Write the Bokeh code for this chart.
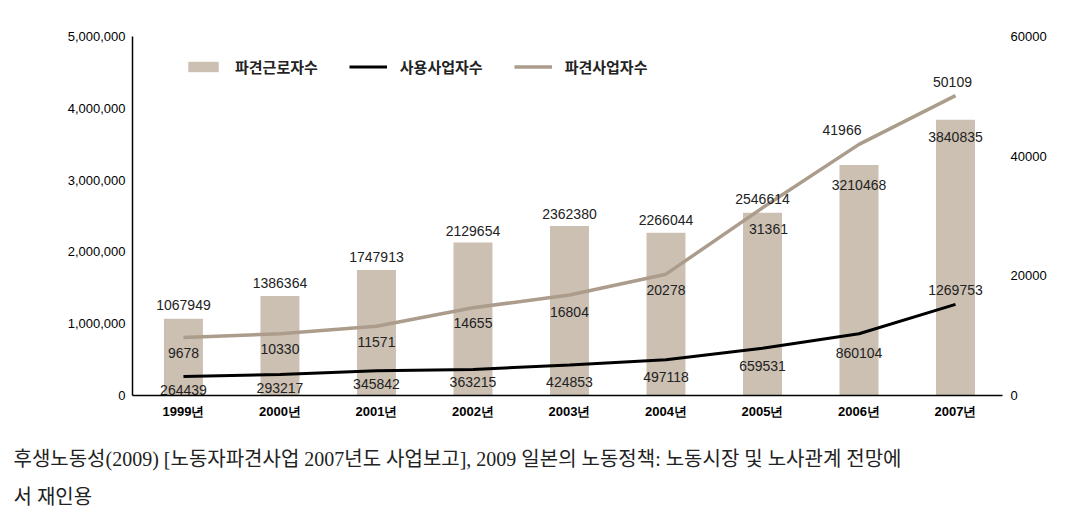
from bokeh.plotting import figure
from bokeh.models import (Range1d, LinearAxis, FixedTicker, NumeralTickFormatter,
                          Legend, LegendItem, ColumnDataSource, Title)
from bokeh.core.properties import value
from bokeh.embed import file_html
from bokeh.resources import INLINE

# ---------------- data ----------------
years = ["1999년", "2000년", "2001년", "2002년", "2003년", "2004년", "2005년", "2006년", "2007년"]
dispatched_workers = [1067949, 1386364, 1747913, 2129654, 2362380, 2266044, 2546614, 3210468, 3840835]   # 파견근로자수 (bars, left)
user_businesses = [264439, 293217, 345842, 363215, 424853, 497118, 659531, 860104, 1269753]              # 사용사업자수 (black, left)
dispatch_businesses = [9678, 10330, 11571, 14655, 16804, 20278, 31361, 41966, 50109]                      # 파견사업자수 (gray, right)

left_ticks = [0, 1000000, 2000000, 3000000, 4000000, 5000000]
right_ticks = [0, 20000, 40000, 60000]

# label placement (screen px, positive = down)
bar_label_dy = [-14, -13, -13, -12, -12, -13, -14, 20, 17]
black_label_dy = [13, 14, 13, 13, 17, 17, 18, 19, -14]
gray_label_dy = [15, 15, 16, 15, 17, 16, 21, -14, -14]
gray_label_dx = [0, 0, 0, 0, 0, 0, 6, -17, -3]

caption1 = "후생노동성(2009) [노동자파견사업 2007년도 사업보고], 2009 일본의 노동정책: 노동시장 및 노사관계 전망에"
caption2 = "서 재인용"

BAR = "#ccc0b2"
GRAY = "#ab9c8b"
TXT = "#222222"
NUMFONT = "Liberation Sans"

xs = list(range(len(years)))

p = figure(width=1062, height=517, output_backend="svg", toolbar_location=None,
           x_range=Range1d(-0.528, 8.487), y_range=Range1d(0, 5000000),
           min_border_left=132, min_border_right=60, min_border_top=36, min_border_bottom=122)
p.extra_y_ranges = {"right": Range1d(0, 60000)}
p.outline_line_color = None
p.xgrid.visible = False
p.ygrid.visible = False
p.background_fill_color = "white"

# axes
p.yaxis.ticker = FixedTicker(ticks=left_ticks)
p.yaxis.formatter = NumeralTickFormatter(format="0,0")
p.yaxis.axis_line_color = "black"
p.yaxis.axis_line_width = 1.5
p.yaxis.major_tick_out = 0
p.yaxis.major_tick_in = 0
p.yaxis.minor_tick_out = 0
p.yaxis.minor_tick_in = 0
p.yaxis.major_tick_line_color = None
p.yaxis.minor_tick_line_color = None
p.yaxis.major_label_standoff = 7
p.yaxis.major_label_text_font = NUMFONT
p.yaxis.major_label_text_font_size = "13px"
p.yaxis.major_label_text_color = "black"

p.xaxis.ticker = FixedTicker(ticks=xs)
p.xaxis.major_label_overrides = {i: y for i, y in enumerate(years)}
p.xaxis.axis_line_color = "black"
p.xaxis.axis_line_width = 1.5
p.xaxis.major_tick_out = 0
p.xaxis.major_tick_in = 0
p.xaxis.minor_tick_out = 0
p.xaxis.minor_tick_in = 0
p.xaxis.major_tick_line_color = None
p.xaxis.minor_tick_line_color = None
p.xaxis.major_label_standoff = 8
p.xaxis.major_label_text_font = NUMFONT
p.xaxis.major_label_text_font_style = "bold"
p.xaxis.major_label_text_font_size = "13px"
p.xaxis.major_label_text_color = "black"

ra = LinearAxis(y_range_name="right", ticker=FixedTicker(ticks=right_ticks),
                formatter=NumeralTickFormatter(format="0"))
ra.axis_line_color = None
ra.major_tick_out = 0
ra.major_tick_in = 0
ra.minor_tick_out = 0
ra.minor_tick_in = 0
ra.major_tick_line_color = None
ra.minor_tick_line_color = None
ra.major_label_standoff = 8
ra.major_label_text_font = NUMFONT
ra.major_label_text_font_size = "13px"
ra.major_label_text_color = "black"
p.add_layout(ra, "right")

# glyphs
src = ColumnDataSource(dict(
    x=xs, bars=dispatched_workers, users=user_businesses, disp=dispatch_businesses,
    bar_t=[str(v) for v in dispatched_workers],
    user_t=[str(v) for v in user_businesses],
    disp_t=[str(v) for v in dispatch_businesses],
    bdy=bar_label_dy, udy=black_label_dy, ddy=gray_label_dy, ddx=gray_label_dx,
))

r_bar = p.vbar(x="x", top="bars", width=0.404, source=src, fill_color=BAR, line_color=None)
r_gray = p.line(x="x", y="disp", source=src, line_color=GRAY, line_width=3.5, y_range_name="right")
r_black = p.line(x="x", y="users", source=src, line_color="black", line_width=3)

common = dict(text_align="center", text_baseline="middle", text_font=value(NUMFONT),
              text_font_size="14px", text_color=TXT)
p.text(x="x", y="bars", text="bar_t", y_offset="bdy", source=src, **common)
p.text(x="x", y="users", text="user_t", y_offset="udy", source=src, **common)
p.text(x="x", y="disp", text="disp_t", y_offset="ddy", x_offset="ddx", source=src,
       y_range_name="right", **common)

legend = Legend(items=[LegendItem(label="파견근로자수", renderers=[r_bar]),
                       LegendItem(label="사용사업자수", renderers=[r_black]),
                       LegendItem(label="파견사업자수", renderers=[r_gray])],
                orientation="horizontal", location=(52, 318),
                padding=0, margin=0, spacing=31, label_standoff=13,
                glyph_width=38, glyph_height=13, label_height=15,
                background_fill_alpha=0, border_line_alpha=0,
                label_text_font="Noto Sans CJK KR", label_text_font_style="bold",
                label_text_font_size="15px", label_text_color=TXT)
p.add_layout(legend)

for txt, so in [(caption1, 49), (caption2, -26)]:
    t = Title(text=txt, align="left", offset=-119, standoff=so,
              text_font="Liberation Serif, Noto Sans CJK KR",
              text_font_size="20px", text_font_style="normal", text_color=TXT)
    p.add_layout(t, "below")

open("out.html", "w").write(file_html(p, INLINE))
